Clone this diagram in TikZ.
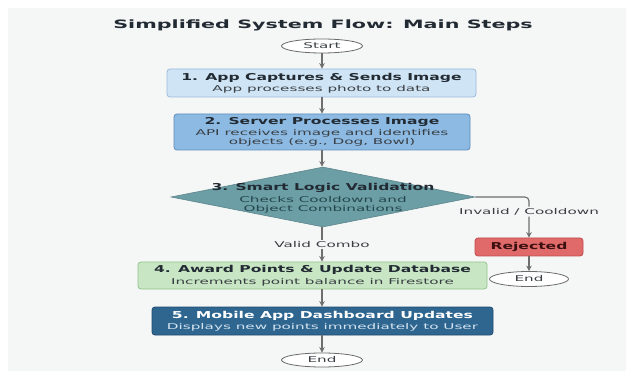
\documentclass[tikz,border=0pt]{standalone}
\usepackage{fontspec}
\setmainfont{DejaVu Sans}
\newfontfamily\titlefont[FakeStretch=1.8]{DejaVu Sans}
\newfontfamily\headfont[FakeStretch=1.64]{DejaVu Sans}
\newfontfamily\subfont[FakeStretch=1.9]{DejaVu Sans}
\usepackage{xcolor}
\usepackage{tikz}
\usetikzlibrary{shapes,shapes.geometric,arrows.meta,positioning,calc}

\definecolor{bgcol}{HTML}{F5F6F6}
\definecolor{arrowgray}{HTML}{6E6E6E}
\definecolor{termline}{HTML}{6A6A6A}
\definecolor{inktext}{HTML}{222B33}
\definecolor{subtext}{HTML}{3A3F44}
\definecolor{capfill}{HTML}{CFE4F4}
\definecolor{capline}{HTML}{98BCDA}
\definecolor{srvfill}{HTML}{8CBAE3}
\definecolor{srvline}{HTML}{5E8DBA}
\definecolor{logicfill}{HTML}{6C9EA5}
\definecolor{logictext}{HTML}{24474D}
\definecolor{awardfill}{HTML}{C8E6C4}
\definecolor{awardline}{HTML}{93C48E}
\definecolor{dashfill}{HTML}{2F6690}
\definecolor{dashline}{HTML}{1F4A6E}
\definecolor{dashsub}{HTML}{D3E3F0}
\definecolor{rejfill}{HTML}{E06A6A}
\definecolor{rejline}{HTML}{C04C4C}
\definecolor{rejtext}{HTML}{3B1010}

\newcommand{\hd}[1]{{\headfont\bfseries\fontsize{9.5}{9}\selectfont #1}}

\begin{document}
\begin{tikzpicture}[
    x=1pt, y=-1pt,
    box/.style={rectangle, draw, rounded corners=3pt, align=center, inner sep=0pt, line width=0.8pt,
        font=\subfont\fontsize{8}{9}\selectfont},
    term/.style={ellipse, draw=termline, fill=white, line width=0.8pt, minimum width=81pt, minimum height=14pt,
        inner sep=0pt, font=\subfont\fontsize{8}{9}\selectfont, text=subtext},
    arrow/.style={-{Stealth[length=5.5pt,width=5.5pt]}, line width=1.1pt, draw=arrowgray},
    lbl/.style={fill=bgcol, inner sep=1.5pt, font=\subfont\fontsize{8}{9}\selectfont, text=subtext}
]
    % canvas
    \fill[white] (0,0) rectangle (626,371);
    \fill[bgcol] (8,8) rectangle (626,371);

    % title
    \node[font=\titlefont\bfseries\fontsize{11.5}{12}\selectfont, text=inktext] (title) at (323,25)
        {Simplified System Flow: Main Steps};

    % start
    \node[term] (start) at (322,46) {Start};

    % step 1
    \node[box, fill=capfill, draw=capline, minimum width=309pt, minimum height=28pt, text=subtext] (capture) at (321.5,83)
        {\hd{\textcolor{inktext}{1. App Captures \& Sends Image}}\\[2.5pt]App processes photo to data};

    % step 2
    \node[box, fill=srvfill, draw=srvline, minimum width=296pt, minimum height=36pt, text=subtext] (server) at (322,132)
        {\hd{\textcolor{inktext}{2. Server Processes Image}}\\[2.5pt]API receives image and identifies\\objects (e.g., Dog, Bowl)};

    % step 3 (decision)
    \node[diamond, fill=logicfill, draw=logicfill!85!black, line width=0.6pt, minimum width=304pt, minimum height=60pt,
        inner sep=0pt] (logic) at (323,197) {};
    \node[align=center, inner sep=0pt, font=\subfont\fontsize{8}{9}\selectfont, text=logictext] (logiclabel) at (323,198)
        {\hd{\textcolor{inktext}{3. Smart Logic Validation}}\\[2.5pt]Checks Cooldown and\\Object Combinations};

    % rejected branch
    \node[box, fill=rejfill, draw=rejline, minimum width=108pt, minimum height=18pt, text=rejtext] (rejected) at (529,247)
        {\hd{Rejected}};
    \node[term, minimum width=79pt, minimum height=15pt] (endright) at (529,279) {End};

    % step 4
    \node[box, fill=awardfill, draw=awardline, minimum width=349pt, minimum height=27pt, text=subtext] (award) at (312.5,275.5)
        {\hd{\textcolor{inktext}{4. Award Points \& Update Database}}\\[2.5pt]Increments point balance in Firestore};

    % step 5
    \node[box, fill=dashfill, draw=dashline, minimum width=341pt, minimum height=28pt, text=dashsub] (dash) at (322.5,321)
        {\hd{\textcolor{white}{5. Mobile App Dashboard Updates}}\\[2.5pt]Displays new points immediately to User};

    % end
    \node[term] (endmain) at (322,360) {End};

    % connectors
    \draw[arrow] (start) -- (capture.north -| start);
    \draw[arrow] (capture.south -| start) -- (server.north -| start);
    \draw[arrow] (server.south -| start) -- (logic.north -| start);
    \draw[arrow] (logic.south -| start) -- node[lbl] {Valid Combo} (award.north -| start);
    \draw[arrow] (award.south -| start) -- (dash.north -| start);
    \draw[arrow] (dash.south -| start) -- (endmain);
    \draw[arrow, rounded corners=4pt] (logic.east) -| node[lbl, pos=0.68] {Invalid / Cooldown} (rejected.north);
    \draw[arrow] (rejected) -- (endright);
\end{tikzpicture}
\end{document}
